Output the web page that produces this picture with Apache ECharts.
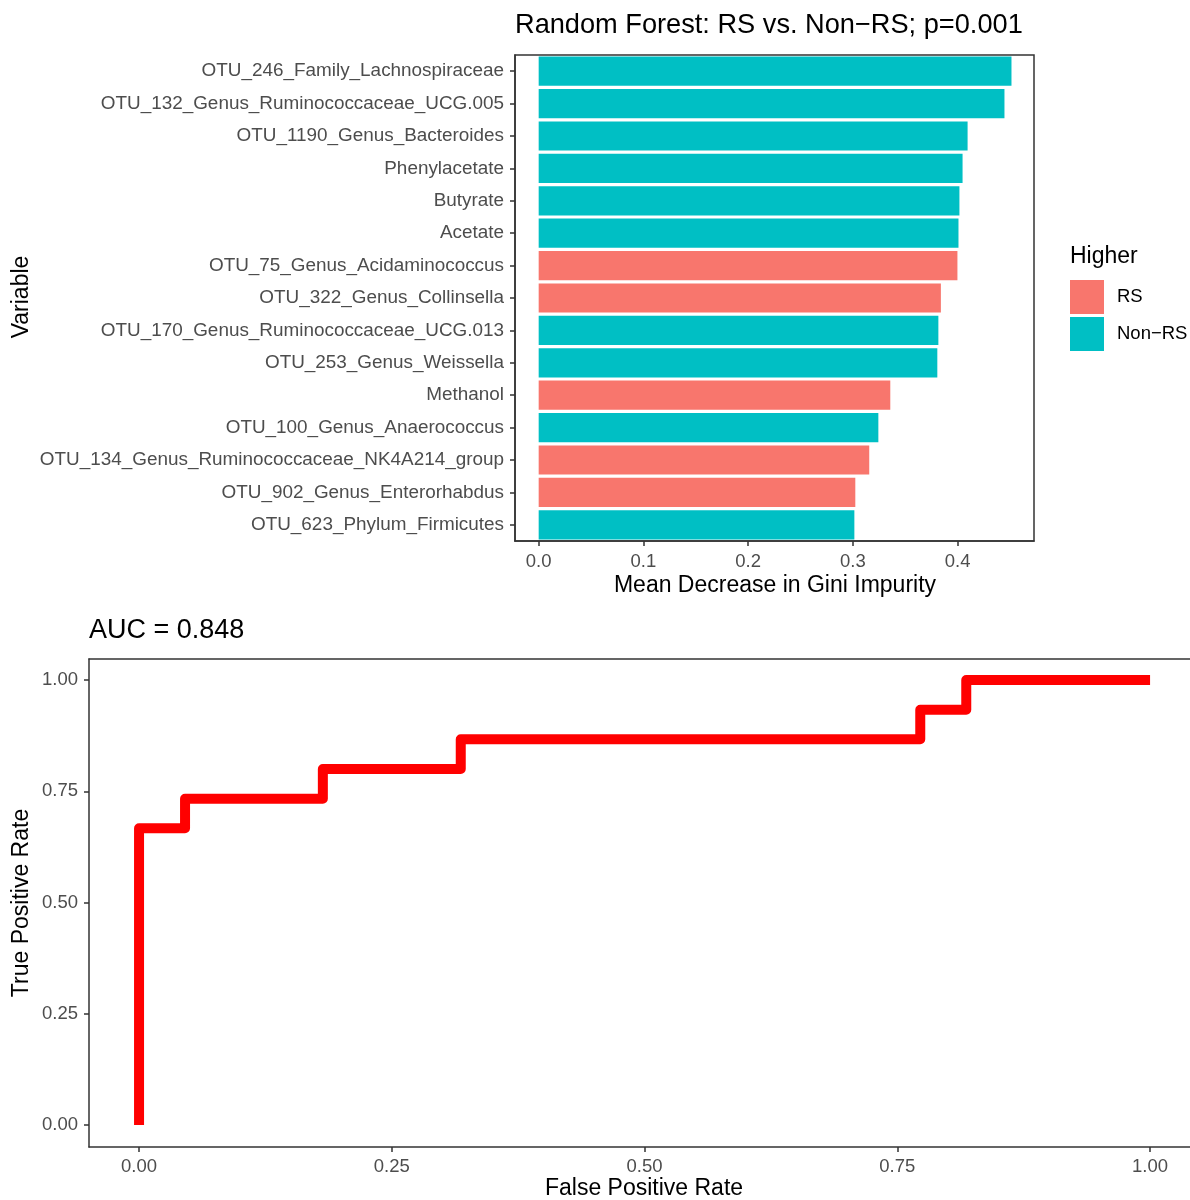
<!DOCTYPE html>
<html>
<head>
<meta charset="utf-8">
<script src="https://cdn.jsdelivr.net/npm/echarts@6/dist/echarts.min.js"></script>
<style>
  html, body { margin: 0; padding: 0; background: #fff; }
  #chart { width: 1190px; height: 1200px; }
</style>
</head>
<body>
<div id="chart"></div>
<script>
// variable importance (top panel), listed top to bottom
const variables = [
  'OTU_246_Family_Lachnospiraceae',
  'OTU_132_Genus_Ruminococcaceae_UCG.005',
  'OTU_1190_Genus_Bacteroides',
  'Phenylacetate',
  'Butyrate',
  'Acetate',
  'OTU_75_Genus_Acidaminococcus',
  'OTU_322_Genus_Collinsella',
  'OTU_170_Genus_Ruminococcaceae_UCG.013',
  'OTU_253_Genus_Weissella',
  'Methanol',
  'OTU_100_Genus_Anaerococcus',
  'OTU_134_Genus_Ruminococcaceae_NK4A214_group',
  'OTU_902_Genus_Enterorhabdus',
  'OTU_623_Phylum_Firmicutes'
];
const giniDecrease = [0.4514, 0.4447, 0.4095, 0.4047, 0.4017, 0.4008, 0.3998, 0.3840,
                      0.3816, 0.3806, 0.3357, 0.3243, 0.3156, 0.3023, 0.3014];
const higherIn = ['Non−RS', 'Non−RS', 'Non−RS', 'Non−RS', 'Non−RS', 'Non−RS', 'RS', 'RS',
                  'Non−RS', 'Non−RS', 'RS', 'Non−RS', 'RS', 'RS', 'Non−RS'];
const groups = ['RS', 'Non−RS'];
const groupColors = ['#F8766D', '#00BFC4'];
const giniTicks = [0, 0.1, 0.2, 0.3, 0.4];

// ROC curve points (bottom panel)
const fpr = [0, 0, 0.0455, 0.1818, 0.3182, 0.7727, 0.8182, 1];
const tpr = [0, 0.6667, 0.7333, 0.8, 0.8667, 0.9333, 1, 1];
const rateTicks = [0, 0.25, 0.5, 0.75, 1];
const aucText = 'AUC = 0.848';

const FONT = '"Liberation Sans", Arial, sans-serif';
const tickLabel = { color: '#4d4d4d', fontSize: 18.5, fontFamily: FONT };
const tickLine = { show: true, length: 5, lineStyle: { color: '#333', width: 1.5 } };
const panelLine = { show: true, onZero: false, lineStyle: { color: '#333', width: 1.5 } };

let myChart = echarts.init(document.getElementById('chart'));

// one bar series per group, stacked so each row has a single bar
const barSeries = groups.map((g, i) => ({
  name: g,
  type: 'bar',
  stack: 'imp',
  xAxisIndex: 0,
  yAxisIndex: 0,
  barWidth: '90%',
  itemStyle: { color: groupColors[i] },
  data: giniDecrease.map((v, k) => higherIn[k] === g ? v : '-')
}));

myChart.setOption({
  animation: false,
  backgroundColor: '#fff',
  textStyle: { fontFamily: FONT },
  grid: [
    { left: 515, top: 55, width: 519, height: 486, show: true, borderColor: '#333', borderWidth: 1.5, backgroundColor: 'transparent' },
    // the ROC panel runs off the right edge of the picture
    { left: 89, top: 659, width: 1101, height: 488 }
  ],
  legend: {
    data: groups,
    orient: 'vertical',
    left: 1070,
    top: 280,
    padding: 0,
    icon: 'rect',
    itemWidth: 34,
    itemHeight: 34,
    itemGap: 3,
    textStyle: { fontSize: 18.5, color: '#000', fontFamily: FONT, padding: [0, 0, 0, 8] }
  },
  xAxis: [
    {
      gridIndex: 0,
      type: 'value',
      min: -0.0226,
      max: 0.4729,
      splitLine: { show: false },
      axisLine: panelLine,
      axisTick: Object.assign({ customValues: giniTicks }, tickLine),
      axisLabel: Object.assign({ margin: 11, customValues: giniTicks, formatter: v => v.toFixed(1) }, tickLabel)
    },
    {
      gridIndex: 1,
      type: 'value',
      min: -0.0495,
      max: 1.0395,
      splitLine: { show: false },
      axisLine: panelLine,
      axisTick: Object.assign({ customValues: rateTicks }, tickLine),
      axisLabel: Object.assign({ margin: 10, customValues: rateTicks, formatter: v => v.toFixed(2) }, tickLabel)
    },
    {
      // top edge of the ROC panel
      gridIndex: 1,
      type: 'value',
      position: 'top',
      min: -0.0495,
      max: 1.0395,
      splitLine: { show: false },
      axisLine: panelLine,
      axisTick: { show: false },
      axisLabel: { show: false }
    }
  ],
  yAxis: [
    {
      gridIndex: 0,
      type: 'category',
      data: variables,
      inverse: true,
      axisLine: panelLine,
      axisTick: Object.assign({ alignWithLabel: true }, tickLine),
      axisLabel: Object.assign({}, tickLabel, { margin: 11, fontSize: 18.9, padding: [3, 0, 0, 0] })
    },
    {
      gridIndex: 1,
      type: 'value',
      min: -0.0494,
      max: 1.0472,
      splitLine: { show: false },
      axisLine: panelLine,
      axisTick: Object.assign({ customValues: rateTicks }, tickLine),
      axisLabel: Object.assign({ margin: 11, customValues: rateTicks, formatter: v => v.toFixed(2) }, tickLabel)
    }
  ],
  series: barSeries.concat([{
    name: 'ROC',
    type: 'line',
    xAxisIndex: 1,
    yAxisIndex: 1,
    step: 'end',
    showSymbol: false,
    lineStyle: { color: '#FF0000', width: 10, cap: 'butt', join: 'round' },
    data: fpr.map((x, i) => [x, tpr[i]])
  }]),
  graphic: [
    // titles
    { type: 'text', left: 515, top: 12,
      style: { text: 'Random Forest: RS vs. Non−RS; p=0.001', font: '27.2px ' + FONT, fill: '#000' } },
    { type: 'text', left: 89, top: 617,
      style: { text: aucText, font: '27px ' + FONT, fill: '#000' } },
    // axis titles
    { type: 'text', x: 775, y: 586,
      style: { text: 'Mean Decrease in Gini Impurity', font: '23px ' + FONT, fill: '#000',
               align: 'center', verticalAlign: 'middle' } },
    { type: 'text', x: 22, y: 297, rotation: Math.PI / 2,
      style: { text: 'Variable', font: '23px ' + FONT, fill: '#000',
               align: 'center', verticalAlign: 'middle' } },
    { type: 'text', x: 644, y: 1189,
      style: { text: 'False Positive Rate', font: '23px ' + FONT, fill: '#000',
               align: 'center', verticalAlign: 'middle' } },
    { type: 'text', x: 22, y: 903, rotation: Math.PI / 2,
      style: { text: 'True Positive Rate', font: '23px ' + FONT, fill: '#000',
               align: 'center', verticalAlign: 'middle' } },
    // legend title
    { type: 'text', left: 1070, top: 245,
      style: { text: 'Higher', font: '23px ' + FONT, fill: '#000' } }
  ]
});
</script>
</body>
</html>
